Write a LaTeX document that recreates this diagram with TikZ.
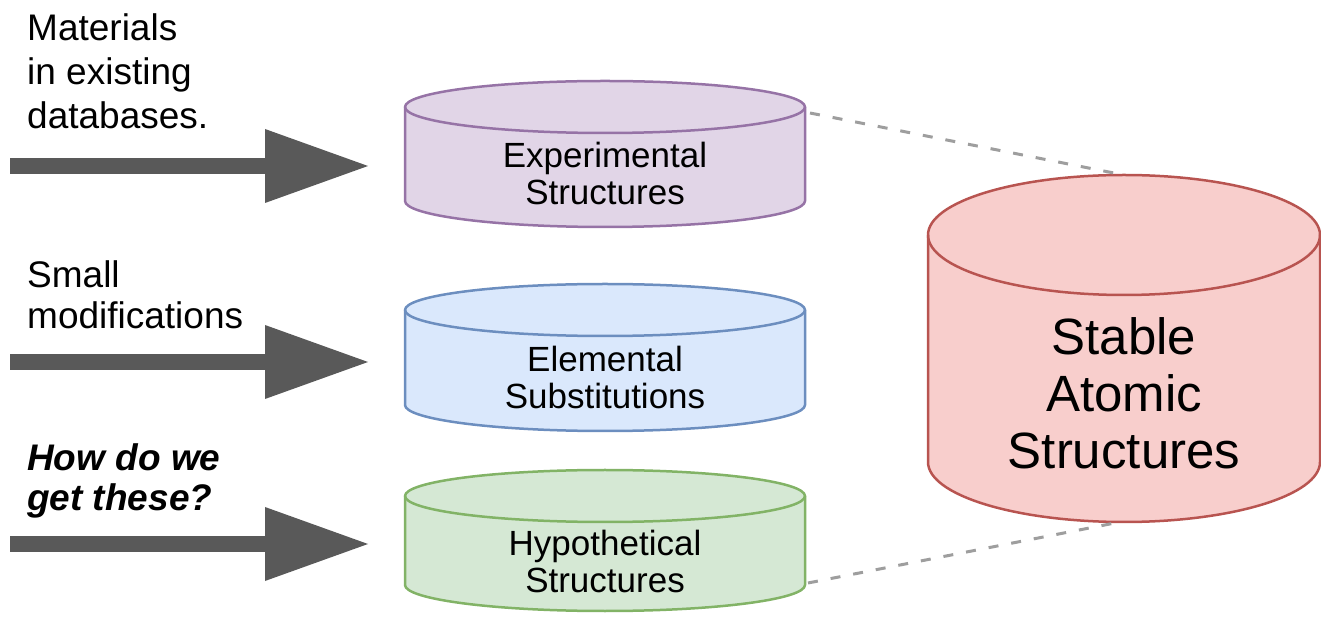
\documentclass[tikz,border=0pt]{standalone}
\usepackage{fontspec}
\setmainfont{Liberation Sans}
\usetikzlibrary{arrows.meta}
\definecolor{purfill}{HTML}{E1D5E7}\definecolor{purdraw}{HTML}{9673A6}
\definecolor{bluefill}{HTML}{DAE8FC}\definecolor{bluedraw}{HTML}{6C8EBF}
\definecolor{grnfill}{HTML}{D5E8D4}\definecolor{grndraw}{HTML}{82B366}
\definecolor{redfill}{HTML}{F8CECC}\definecolor{reddraw}{HTML}{B85450}
\definecolor{arrowgray}{HTML}{595959}
\definecolor{dashgray}{HTML}{9E9E9E}
% name, cx, Ytop, Ybot, rx, ry, colour prefix
\newcommand\mydbcyl[7]{%
  \path[fill=#7fill, draw=#7draw, line width=2.5pt, line join=round]
    (#2-#5,#3) -- (#2-#5,#4)
    arc[start angle=180, end angle=360, x radius=#5, y radius=#6]
    -- (#2+#5,#3)
    arc[start angle=0, end angle=180, x radius=#5, y radius=#6] -- cycle;
  \draw[#7draw, line width=2.5pt] (#2-#5,#3)
    arc[start angle=180, end angle=360, x radius=#5, y radius=#6];
}
\tikzset{
  bigarrow/.style={arrowgray, line width=16pt, -{Triangle[length=103pt,width=74pt,line width=0pt]}},
  sidetext/.style={anchor=north west, inner sep=0pt, align=left, font=\fontsize{37}{44}\selectfont},
  cyltext/.style={inner sep=0pt, align=center, font=\fontsize{35}{37.5}\selectfont},
  bigtext/.style={inner sep=0pt, align=center, font=\fontsize{51}{57}\selectfont},
  linkline/.style={dashgray, line width=3pt, dash pattern=on 10pt off 13pt},
}
\begin{document}
\begin{tikzpicture}[x=1pt, y=1pt]
\useasboundingbox (0,0) rectangle (1321,618);

% cylinders
\mydbcyl{exp}{605}{511}{417}{200}{26}{pur}
\mydbcyl{elem}{605}{308}{213}{200}{26}{blue}
\mydbcyl{hyp}{605}{122}{33}{200}{26}{grn}
\mydbcyl{stable}{1124}{383}{156}{196}{60}{red}

\node[cyltext] (exp) at (605,444.5) {Experimental\\Structures};
\node[cyltext] (elem) at (605,240.5) {Elemental\\Substitutions};
\node[cyltext] (hyp) at (605,56.5) {Hypothetical\\Structures};
\node[bigtext] (stable) at (1124,225) {Stable\\Atomic\\Structures};

% dashed links
\coordinate (exp-e) at (810,505);
\coordinate (hyp-e) at (808,35);
\coordinate (stable-top) at (1124,443);
\coordinate (stable-bot) at (1120,96);
\draw[linkline] (exp-e) -- (stable-top);
\draw[linkline] (hyp-e) -- (stable-bot);

% side labels
\node[sidetext] (t1) at (27,605) {Materials\\in existing\\databases.};
\node[sidetext, font=\fontsize{37}{41}\selectfont] (t2) at (27,358) {Small\\modifications};
\node[sidetext, font=\fontsize{37}{40}\selectfont\bfseries\itshape] (t3) at (27,175) {How do we\\get these?};

% arrows
\coordinate (a1s) at (10,452); \coordinate (a1e) at (368,452);
\coordinate (a2s) at (10,256); \coordinate (a2e) at (368,256);
\coordinate (a3s) at (10,74);  \coordinate (a3e) at (368,74);
\draw[bigarrow] (a1s) -- (a1e);
\draw[bigarrow] (a2s) -- (a2e);
\draw[bigarrow] (a3s) -- (a3e);
\end{tikzpicture}
\end{document}
